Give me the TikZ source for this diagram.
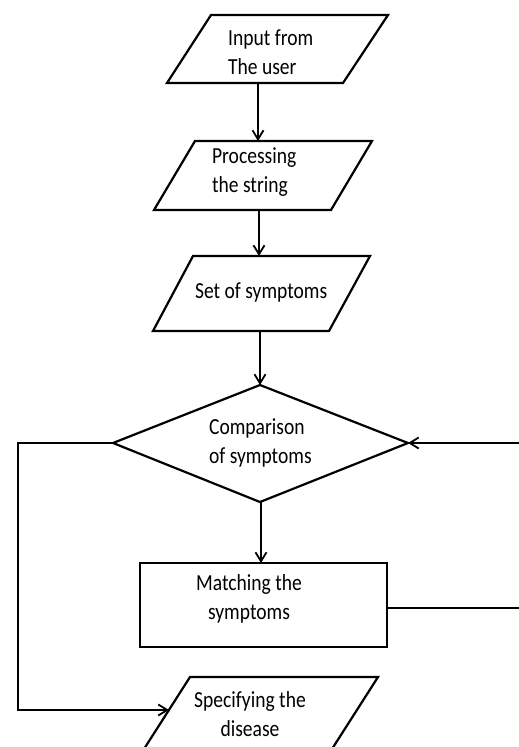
\documentclass[tikz,border=0pt]{standalone}
\usepackage{fontspec}
\setmainfont{Carlito}[FakeStretch=0.85]
\usetikzlibrary{arrows.meta}
\begin{document}
\begin{tikzpicture}[x=1pt,y=-1pt,line width=2.2pt,
  shp/.style={draw,line join=miter},
  conn/.style={-{Straight Barb[length=9pt,width=11pt,line width=1.8pt]}},
  lbl/.style={inner sep=0pt,font=\fontsize{23}{29}\selectfont,anchor=base west,align=left},
  lblc/.style={inner sep=0pt,font=\fontsize{23}{29}\selectfont,anchor=base,align=center}]
\fill[white] (0,0) rectangle (519,747);
\useasboundingbox (0,0) rectangle (519,747);
% shapes
\draw[shp] (211,15) -- (388,15) -- (343,83) -- (167,83) -- cycle;
\draw[shp] (195,141) -- (372,141) -- (331,210) -- (154,210) -- cycle;
\draw[shp] (193,256) -- (370,256) -- (329,331) -- (153,331) -- cycle;
\draw[shp] (260,385) -- (408,443) -- (260,502) -- (113,443) -- cycle;
\draw[shp] (140,563) rectangle (387,647);
\draw[shp] (144,749) -- (190,677) -- (378,677) -- (332,749);
% labels (base anchor = baseline of the last line)
\node[lbl] (t1) at (227,74) {Input from\\The user};
\node[lbl] (t2) at (211,192) {Processing\\the string};
\node[lbl] (t3) at (194,298) {Set of symptoms};
\node[lbl] (t4) at (208,463) {Comparison\\of symptoms};
\node[lblc] (t5) at (249,619) {Matching the\\symptoms};
\node[lblc] (t6) at (250,736) {Specifying the\\disease};
% connection points
\coordinate (a1) at (258,83);
\coordinate (a2) at (258,141);
\coordinate (b1) at (259,210);
\coordinate (b2) at (259,256);
\coordinate (c1) at (260,331);
\coordinate (c2) at (260,385);
\coordinate (dl) at (113,443);
\coordinate (dr) at (408,443);
\coordinate (db) at (261,502);
\coordinate (rt) at (261,563);
\coordinate (rr) at (387,608);
\coordinate (re) at (520,608);
\coordinate (ie) at (520,443);
\coordinate (lc1) at (18,443);
\coordinate (lc2) at (18,710);
\coordinate (se) at (169,710);
% connectors
\draw[conn] (a1) -- (a2);
\draw[conn] (b1) -- (b2);
\draw[conn] (c1) -- (c2);
\draw[conn] (db) -- (rt);
\draw (rr) -- (re);
\draw[conn] (ie) -- (dr);
\draw[conn] (dl) -- (lc1) -- (lc2) -- (se);
\end{tikzpicture}
\end{document}
